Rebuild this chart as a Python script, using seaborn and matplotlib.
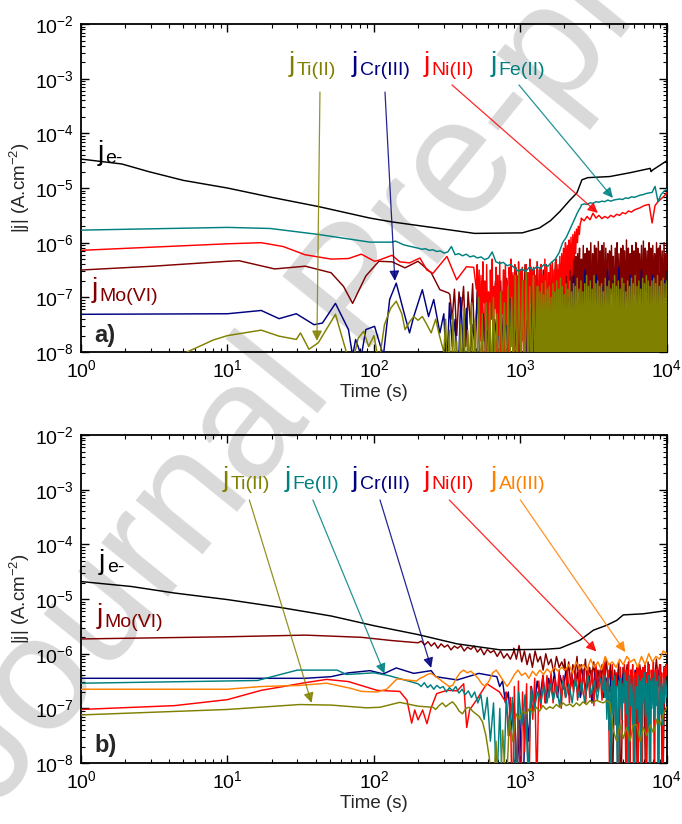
import numpy as np
import matplotlib
matplotlib.use("Agg")
import matplotlib.pyplot as plt
from matplotlib.ticker import LogLocator, NullFormatter
import seaborn as sns

# ================= DATA  (time in s, values = log10 |j| in A.cm-2) =================
# ---------------- panel a) ----------------
A_E_T = [1, 1.9, 2.9, 5, 10, 20, 42, 94, 133, 264, 487, 1030, 1350, 1600, 1860, 2180, 2430, 2630,
         2880, 4070, 5600, 7700, 7800, 8000, 10000]
A_E_LOG = [-4.47, -4.56, -4.70, -4.86, -5.0, -5.17, -5.34, -5.55, -5.62, -5.73, -5.83, -5.82, -5.73,
           -5.60, -5.43, -5.22, -5.09, -4.85, -4.81, -4.79, -4.72, -4.64, -4.70, -4.67, -4.50]

A_FE_T = [1, 10, 19.6, 42, 94, 133, 140, 160]
A_FE_LOG = [-5.77, -5.72, -5.74, -5.85, -5.99, -5.99, -5.97, -6.04]
A_FE_REC1 = [-6.10, -6.12, -6.11, -6.14, -6.13, -6.16, -6.15, -6.19, -6.17, -6.07, -6.22, -6.20,
             -6.24, -6.21, -6.26, -6.24, -6.28, -6.26, -6.31, -6.28, -6.17, -6.35, -6.38, -6.36,
             -6.42, -6.40, -6.46, -6.52, -6.48, -6.53, -6.45, -6.50, -6.44, -6.47, -6.40, -6.43,
             -6.36, -6.30, -6.19, -6.00, -5.90, -5.75, -5.60, -5.45, -5.33]
A_FE_REC2 = [-5.31, -5.29, -5.30, -5.27, -5.28, -5.25, -5.26, -5.24, -5.25, -5.22, -5.24, -5.22,
             -5.21, -5.20, -5.21, -5.18, -5.19, -5.16, -5.17, -5.15, -5.13, -5.12, -5.10, -5.09,
             -5.08, -4.97, -5.25, -5.12, -5.06, -5.02]
A_FE_SPANS = [(200, 2600), (2600, 10000)]

A_NI_T = [1, 10, 17, 24, 33.8, 51, 67, 82, 101, 108, 133, 150, 175, 206, 230, 253, 315, 367, 428, 480]
A_NI_LOG = [-6.14, -6.02, -6.0, -6.07, -6.22, -6.30, -6.29, -6.21, -6.34, -6.32, -6.23, -6.35, -6.37,
            -6.28, -6.50, -6.56, -6.25, -6.68, -6.44, -6.45]
A_NI_REC1 = [-6.85, -6.4, -7.3, -6.5, -7.8, -6.6, -8.3, -6.35, -7.1, -6.7, -8.5, -6.4, -7.6, -6.9,
             -8.2, -6.5, -7.4, -6.3, -8.6, -6.8,
             -7.2, -6.45, -8.1, -6.6, -7.7, -6.35, -8.4, -6.9, -7.3, -6.5, -8.0, -6.4, -7.5, -6.7,
             -8.3, -6.45, -7.0, -6.3, -7.9, -6.55,
             -8.7, -6.4, -7.6, -6.6, -8.9, -6.35, -7.2, -6.5, -8.4, -6.45, -7.8, -6.7, -9.0, -6.4,
             -7.4, -6.55, -8.6, -6.3, -7.1, -6.5,
             -8.8, -6.45, -7.5, -6.6, -8.2, -6.35, -7.9, -6.5, -8.9, -6.4, -7.3, -6.6, -8.5, -6.3,
             -7.7, -6.45, -8.1, -6.55, -7.2, -6.4,
             -8.3, -6.35, -7.6, -6.5, -7.9, -6.3, -7.1, -6.4, -7.5, -6.3]
A_NI_REC2 = [-6.25, -7.2, -6.2, -6.8, -6.1, -7.5, -6.0, -6.6, -6.05, -7.0, -5.95, -6.5, -5.9, -6.6,
             -5.85, -6.3, -5.8, -6.2, -5.75, -6.0, -5.7, -5.85, -5.65, -5.6]
A_NI_REC3 = [-5.55, -5.6, -5.52, -5.58, -5.46, -5.55, -5.5, -5.56, -5.52, -5.55, -5.5, -5.53, -5.48,
             -5.5, -5.45, -5.47, -5.42, -5.44, -5.4, -5.38, -5.36, -5.33, -5.31, -5.3, -5.64, -5.32,
             -5.25, -5.2, -5.15, -5.09]
A_NI_SPANS = [(500, 1860), (1860, 2600), (2600, 10000)]

A_MO_T = [1, 3.1, 10, 12, 21, 34, 51, 62, 71.5, 88, 108, 133, 163, 200, 246, 282, 323]
A_MO_LOG = [-6.50, -6.43, -6.34, -6.33, -6.48, -6.43, -6.55, -6.80, -7.11, -6.61, -6.34, -6.35,
            -6.46, -6.34, -6.55, -6.86, -6.92]
A_MO_REC1 = [-6.95, -7.4, -6.85, -7.7, -6.9, -7.3, -6.8, -7.9, -6.9, -7.5, -6.75, -8.2, -6.85, -7.2,
             -6.7, -7.8, -6.8, -8.4, -6.9, -7.3, -6.7, -8.0]
A_MO_REC2 = [-6.6, -7.6, -6.7, -8.5, -6.5, -7.2, -6.65, -8.8, -6.55, -7.4, -6.6, -8.3, -6.45, -7.0,
             -6.6, -8.6, -6.5, -7.3, -6.4, -8.1,
             -6.55, -6.9, -6.45, -8.7, -6.5, -7.5, -6.35, -8.2, -6.45, -7.1, -6.5, -8.4, -6.4, -7.2,
             -6.55, -8.9, -6.45, -7.0, -6.35, -8.3,
             -6.5, -7.4, -6.4, -8.0, -6.45]
A_MO_REC3 = [-6.35, -7.3, -6.25, -8.4, -6.3, -6.9, -6.2, -7.8, -6.35, -7.0, -6.15, -8.6, -6.25, -7.2,
             -6.2, -6.9, -6.1, -8.0, -6.3, -7.1,
             -6.05, -7.6, -6.2, -6.95, -6.1, -8.3, -6.15, -7.0, -6.0, -7.4, -6.2, -8.8, -6.05, -6.9,
             -6.1, -7.7, -5.98, -7.2, -6.15, -8.1,
             -6.05, -6.9, -6.0, -7.5, -6.1, -7.0, -6.2, -8.5, -6.15, -7.1, -6.05, -6.95, -6.25, -7.6,
             -6.1, -8.2, -6.0, -7.0, -6.2, -7.3,
             -6.1, -8.7, -6.05, -6.9, -6.15, -7.4, -5.95, -7.1, -6.1, -8.4, -6.2, -7.0, -6.05, -7.8,
             -6.15, -6.95, -6.0, -8.9, -6.1, -7.2,
             -6.2, -7.0, -6.05, -7.5, -5.97, -8.1, -6.1, -6.9, -6.15, -7.3, -6.0, -8.6, -6.1, -7.1,
             -6.05, -7.0, -6.2, -7.9, -6.0, -7.2,
             -6.1, -8.3, -6.05, -6.95, -6.15, -7.4, -6.0, -7.0, -6.2, -6.5]
A_MO_SPANS = [(330, 700), (700, 2000), (2000, 10000)]

A_CR_T = [1, 10, 17, 22.5, 29.5, 39, 44.5, 54.6, 67, 71.5, 75, 82, 88, 101, 116, 128, 142, 163, 175,
          187, 214, 236, 256, 282]
A_CR_LOG = [-7.31, -7.30, -7.24, -7.39, -7.30, -7.50, -7.47, -7.11, -7.59, -8.07, -7.77, -8.07, -7.59,
            -7.53, -8.07, -7.04, -6.74, -7.35, -7.65, -7.35, -6.86, -7.35, -7.04, -7.65]
A_CR_REC = [-7.3, -8.4, -7.1, -7.9, -7.4, -8.6, -7.0, -8.1, -7.2, -8.5, -7.5, -7.8, -6.9, -8.7, -7.3,
            -8.2, -7.0, -8.6, -7.4, -7.9, -6.8, -8.4, -7.1, -8.8, -6.9, -8.0, -7.2, -8.5, -6.7, -8.3,
            -7.0, -8.9, -6.8, -7.9, -6.6, -8.6, -7.0, -8.2, -6.7, -8.8, -6.9, -8.0, -6.5, -8.5, -6.8,
            -8.1, -6.6, -8.7, -6.9, -7.9, -6.5, -8.4, -6.7, -8.9, -6.6, -8.0, -6.8, -8.6, -6.5, -8.2,
            -6.7, -8.8, -6.45, -8.1, -6.8, -8.5, -6.6, -8.0, -6.9, -8.7, -6.5, -8.3, -6.7, -8.9, -6.6,
            -8.2, -6.8, -8.6, -6.7, -7.0]
A_CR_SPANS = [(300, 10000)]

A_TI_T = [4, 5.3, 8, 10, 17, 22.5, 29.5, 31.5, 36, 41.7, 47, 54.6, 64, 70, 78, 85, 92, 100, 108, 118,
          130, 142, 155, 163, 175, 187, 200, 214, 230, 246, 264, 280]
A_TI_LOG = [-8.15, -8.0, -7.78, -7.70, -7.60, -7.71, -7.77, -7.65, -7.95, -7.83, -7.6, -7.31, -7.95,
            -8.3, -7.75, -7.62, -7.9, -7.7, -8.2, -7.5, -7.2, -7.07, -7.3, -7.59, -7.45, -7.35, -7.42,
            -7.35, -7.5, -7.65, -7.40, -7.7]
A_TI_REC1 = [-8.0, -7.4, -8.6, -7.6, -8.9, -7.3, -8.4, -7.8, -8.8, -7.5, -8.5, -7.2, -8.9, -7.6, -8.3,
             -7.1, -8.7, -7.4, -8.8, -7.0, -8.5, -7.3, -8.9, -7.1, -8.6]
A_TI_REC2 = [-8.3, -7.1, -8.6, -7.0, -8.2, -7.3, -8.7, -6.9, -8.4, -7.1, -8.8, -6.8, -8.3, -7.0,
             -8.6, -6.6, -8.7, -6.5, -8.4, -6.7, -8.8, -6.5, -8.5, -6.8, -8.7, -6.6, -8.5, -6.8]
A_TI_REC3 = [-8.7, -6.8, -8.9, -6.9, -8.5, -6.75, -8.8, -6.95, -8.6, -6.7, -8.9, -6.85, -8.4, -6.8,
             -8.8, -7.0, -8.6, -6.75, -8.9, -6.9,
             -8.5, -6.7, -8.8, -6.85, -8.6, -6.65, -8.9, -6.8, -8.4, -6.95, -8.7, -6.75, -8.9, -6.85,
             -8.5, -6.7, -8.8, -6.9, -8.6, -6.75,
             -8.9, -6.8, -8.5, -6.65, -8.8, -6.85, -8.6, -6.7, -8.9, -6.9, -8.4, -6.75, -8.8, -6.6,
             -8.6, -6.8, -8.9, -6.7, -8.5, -6.85,
             -8.8, -6.6, -8.7, -6.75, -8.9, -6.7, -8.6, -6.8, -8.8, -6.75, -8.5, -6.9, -8.9, -6.65,
             -8.6, -6.8, -8.8, -6.7, -8.4, -6.85,
             -8.9, -6.75, -8.6, -6.6, -8.8, -6.8, -8.5, -6.7, -8.9, -6.85, -8.7, -6.65, -8.8, -6.75,
             -8.6, -6.9, -8.9, -6.7, -8.5, -6.8,
             -8.8, -6.65, -8.6, -6.75, -8.9, -6.6, -8.5, -6.8, -8.8, -6.7, -8.6, -6.85, -8.9, -6.65,
             -8.7, -6.75, -8.5, -6.6, -8.8, -6.7,
             -8.9, -6.8, -8.6, -6.7, -8.8, -6.65, -8.5, -6.75, -8.9, -6.6, -8.7, -6.8, -8.6, -6.7,
             -8.8, -6.65, -8.9, -6.75, -8.6, -6.7]
A_TI_SPANS = [(300, 600), (600, 1300), (1300, 10000)]

# ---------------- panel b) ----------------
B_E_T = [1, 2.2, 4.35, 10, 22.5, 51, 101, 200, 370, 730, 1450, 1860, 2560, 3150, 3880, 4550, 5040,
         6900, 10000]
B_E_LOG = [-4.68, -4.77, -4.89, -5.01, -5.15, -5.31, -5.49, -5.65, -5.82, -5.93, -5.92, -5.90, -5.75,
           -5.57, -5.48, -5.39, -5.29, -5.27, -5.21]

B_MO_T = [1, 10, 34, 82, 133, 200]
B_MO_LOG = [-5.73, -5.69, -5.66, -5.70, -5.76, -5.80]
B_MO_REC1 = [-5.80, -5.77, -5.84, -5.78, -5.86, -5.80, -5.90, -5.82, -5.88, -5.84, -5.93, -5.86,
             -5.90, -5.85, -5.95, -5.88, -5.92, -5.86, -5.97, -5.90, -6.02, -5.92, -5.98, -5.94,
             -6.05, -5.95, -6.08, -6.0, -6.1, -5.96]
B_MO_REC2 = [-5.9, -6.1, -5.85, -6.15, -5.95, -6.2, -6.0, -6.25, -5.95, -6.15, -6.05, -6.3, -6.0,
             -6.2, -6.1, -6.35, -6.05, -6.25, -6.15, -6.3]
B_MO_REC3 = [-6.1, -6.5, -6.15, -6.6, -6.2, -6.4, -6.05, -6.7, -6.2, -6.5, -6.1, -6.6, -6.25, -6.45,
             -6.15, -6.7, -6.3, -6.5, -6.2, -6.6, -6.1, -6.55, -6.2, -8.5, -6.3, -6.6, -6.15, -8.8,
             -6.25, -6.5, -6.2, -9.0, -6.3, -6.6, -6.4, -8.6, -6.2, -6.5, -6.3, -8.9, -6.15, -6.6,
             -6.35, -6.5, -6.1, -6.6, -6.2, -8.7, -6.3, -6.2]
B_MO_SPANS = [(200, 900), (900, 2000), (2000, 10000)]

B_CR_T = [1, 10, 34, 51, 67, 94, 116, 142, 187, 246, 264, 370, 520, 690]
B_CR_LOG = [-6.45, -6.45, -6.45, -6.42, -6.35, -6.31, -6.37, -6.26, -6.36, -6.31, -6.42, -6.48, -6.36,
            -6.42]
B_CR_REC = [-6.42, -6.6, -6.5, -6.9, -6.7, -7.4, -6.9, -8.2, -7.2, -8.8, -6.8, -7.6, -6.6, -7.0,
            -6.5, -6.8, -6.4, -6.9, -6.45, -6.7, -6.35, -6.8, -6.4, -6.65, -6.3, -6.75, -6.4, -6.6,
            -6.35, -6.8, -6.3, -6.7, -6.4, -6.9, -6.35, -6.6, -6.3, -6.8, -6.45, -6.7, -6.3, -6.9,
            -6.4, -6.6, -6.35, -7.0, -6.4, -6.7, -6.3, -6.8, -6.45, -6.6, -6.35, -6.9, -6.4, -6.7,
            -6.3, -6.8, -6.5, -6.6]
B_CR_SPANS = [(690, 10000)]

B_FE_T = [1, 10, 16, 30, 56, 65, 100, 126, 200]
B_FE_LOG = [-6.54, -6.50, -6.49, -6.30, -6.30, -6.38, -6.35, -6.40, -6.55]
B_FE_REC1 = [-6.55, -6.6, -6.53, -6.62, -6.57, -6.65, -6.58, -6.63, -6.6, -6.7, -6.62, -6.68, -6.6,
             -6.72, -6.65, -6.75, -6.68, -6.8, -6.7, -6.9,
             -6.75, -7.2, -6.8, -7.6, -6.9, -8.5, -7.0, -8.9, -6.85, -7.5, -6.8, -9.0, -6.7, -7.3,
             -6.75, -8.2, -6.65, -7.0, -6.7, -6.9,
             -6.6, -6.9, -6.55, -6.85, -6.6, -6.95, -6.5, -6.8, -6.55, -6.9, -6.45, -6.8, -6.5, -6.9,
             -6.4, -6.75, -6.5, -6.85, -6.45, -6.7]
B_FE_REC2 = [-6.4, -6.8, -6.5, -7.2, -6.45, -7.4, -6.6, -8.6, -6.5, -7.1, -6.4, -7.3, -6.6, -8.8,
             -6.5, -7.0, -6.45, -7.2, -6.55, -6.9,
             -6.35, -7.1, -6.5, -8.9, -6.4, -6.95, -6.55, -7.3, -6.45, -8.4, -6.6, -7.0, -6.4, -7.25,
             -6.5, -9.0, -6.45, -6.9, -6.35, -7.15,
             -6.55, -7.4, -6.4, -8.7, -6.5, -7.0, -6.45, -7.2, -6.35, -6.95, -6.5, -8.5, -6.4, -7.1,
             -6.55, -7.3, -6.45, -6.9, -6.5, -6.8]
B_FE_SPANS = [(200, 3700), (3700, 10000)]

B_AL_T = [1, 10, 17, 31, 47.5, 68.6, 82, 105, 122, 144, 195]
B_AL_LOG = [-6.65, -6.65, -6.60, -6.58, -6.54, -6.63, -6.69, -6.70, -6.65, -6.46, -6.50]
B_AL_REC = [-6.5, -6.45, -6.42, -6.38, -6.36, -6.4, -6.45, -6.5, -6.55, -6.6, -6.58, -6.45, -6.35,
            -6.3, -6.35, -6.32, -6.38, -6.45, -6.55, -6.6,
            -6.5, -6.35, -6.3, -6.4, -6.5, -6.6, -6.5, -6.38, -6.3, -6.4, -6.35, -6.45, -6.32, -6.4,
            -6.3, -6.38, -6.28, -6.35, -6.25, -6.32,
            -6.25, -6.3, -6.2, -6.35, -6.15, -6.28, -6.2, -6.3, -6.1, -6.25, -6.15, -6.3, -6.05, -6.2,
            -6.15, -6.25, -6.1, -6.2, -6.05, -6.15,
            -6.1, -6.25, -6.05, -6.2, -6.0, -6.15, -6.05, -6.1, -5.95, -6.0]
B_AL_SPANS = [(195, 10000)]

B_NI_T = [1, 4.35, 10, 17, 34, 47.5, 67, 105, 150, 168, 181, 190, 200, 215, 230, 245, 268, 316, 370,
          410, 430, 450, 500, 590, 720, 800]
B_NI_LOG = [-7.02, -6.95, -6.84, -6.67, -6.53, -6.47, -6.51, -6.67, -6.69, -6.85, -7.27, -7.03, -7.21,
            -7.03, -7.28, -7.0, -6.73, -6.67, -6.68, -6.55, -7.35, -7.03, -6.85, -6.55, -6.7, -6.9]
B_NI_REC1 = [-6.7, -7.5, -6.8, -9.0, -6.6, -8.8, -6.5, -9.0, -6.7, -7.8, -6.55, -9.0, -6.6, -7.2,
             -6.45, -8.5, -6.5, -7.0, -6.4, -6.9,
             -6.4, -6.8, -6.35, -6.9, -6.45, -6.75, -6.3, -7.0, -6.4, -6.8, -6.25, -6.9, -6.35, -6.7,
             -6.3, -6.85, -6.2, -6.75, -6.3, -6.9,
             -6.25, -6.8, -6.3, -6.95, -6.2, -6.7, -6.3, -6.85, -6.15, -6.75, -6.3, -9.0, -6.2, -6.8,
             -6.35, -9.0, -6.25, -6.9, -6.2, -9.0]
B_NI_REC2 = [-6.3, -6.8, -6.15, -9.0, -6.3, -6.7, -6.2, -9.0, -6.35, -6.8, -6.25, -9.0, -6.2, -7.0,
             -6.3, -9.0, -6.25, -6.75, -6.2, -8.8,
             -6.35, -6.9, -6.2, -9.0, -6.3, -6.7, -6.15, -8.6, -6.3, -6.85, -6.25, -9.0, -6.2, -6.9,
             -6.35, -9.0, -6.25, -6.7, -6.2, -6.4]
B_NI_SPANS = [(800, 5300), (5300, 10000)]

B_TI_T = [1, 10, 31, 51, 89, 110, 150, 200, 253]
B_TI_LOG = [-7.12, -7.02, -6.93, -6.94, -6.99, -6.98, -6.89, -6.96, -6.98]
B_TI_REC = [-7.02, -6.95, -6.9, -6.97, -6.92, -6.88, -6.95, -7.05, -7.1, -7.0, -6.98, -7.05, -7.1,
            -7.15, -7.25, -7.5, -7.9, -8.8, -7.6, -9.0,
            -7.4, -8.6, -7.2, -7.6, -7.1, -7.2, -7.05, -7.1, -7.0, -7.08, -6.98, -7.05, -6.95, -7.02,
            -6.97, -7.0, -6.93, -6.98, -6.9, -6.95,
            -6.92, -6.97, -6.9, -6.95, -6.88, -6.93, -6.86, -6.9, -6.85, -6.88, -6.9, -6.86, -6.9,
            -7.4, -7.6, -7.3, -7.55, -7.35, -7.6, -7.3,
            -7.3, -7.6, -7.35, -7.5, -7.3, -7.45, -7.2, -7.3, -7.1, -6.98]
B_TI_SPANS = [(264, 10000)]

# label / arrow data: (subscript, label-left time, arrow start (t, j), arrow tip (t, j))
A_LABELS = [("Ti(II)", 26.3, (42.8, 5.7e-4), (40.8, 1.6e-8)),
            ("Cr(III)", 70.8, (119, 5.7e-4), (139, 2.0e-7)),
            ("Ni(II)", 219, (341, 7.7e-4), (3380, 3.5e-6)),
            ("Fe(II)", 630, (977, 7.7e-4), (4280, 6.6e-6))]
B_LABELS = [("Ti(II)", 9.26, (14.1, 6.5e-4), (37.5, 1.26e-7)),
            ("Fe(II)", 24.6, (38.3, 6.5e-4), (118, 4.3e-7)),
            ("Cr(III)", 70.8, (110, 6.5e-4), (246, 5.5e-7)),
            ("Ni(II)", 219, (327, 6.5e-4), (3300, 1.1e-6)),
            ("Al(III)", 630, (1000, 6.5e-4), (5200, 1.07e-6))]

C = {"e": "black", "Fe": "#008080", "Ni": "#ff0000", "Mo": "#800000", "Cr": "#000080",
     "Ti": "#808000", "Al": "#ff8000"}
LABEL_COL = {"Ti(II)": C["Ti"], "Cr(III)": C["Cr"], "Ni(II)": C["Ni"], "Fe(II)": C["Fe"],
             "Al(III)": C["Al"]}


def build(t, lg, spans=(), recs=()):
    tt = list(t)
    ll = list(lg)
    for (t0, t1), vals in zip(spans, recs):
        tt += list(np.geomspace(t0, t1, len(vals)))
        ll += list(vals)
    return np.array(tt, float), 10.0 ** np.array(ll, float)


# ================= STYLE =================
sns.set_style("ticks")
plt.rcParams["font.family"] = ["Liberation Sans", "DejaVu Sans"]
plt.rcParams["mathtext.fontset"] = "custom"
plt.rcParams["mathtext.rm"] = "Liberation Sans"
plt.rcParams["mathtext.it"] = "Liberation Sans"
plt.rcParams["mathtext.default"] = "regular"

fig = plt.figure(figsize=(6.82, 8.24), dpi=100)
fig.patch.set_facecolor("white")

# watermark (behind everything)
fig.text(0.53, 0.645, "Journal Pre-proof", fontsize=118, rotation=51, color="#d9d9d9",
         ha="center", va="center", zorder=-5, rotation_mode="anchor")

ax_a = fig.add_axes([0.1188, 0.5728, 0.859, 0.398])
ax_b = fig.add_axes([0.1188, 0.074, 0.859, 0.398])

panel_a = [
    build(A_E_T, A_E_LOG) + (C["e"],),
    build(A_MO_T, A_MO_LOG, A_MO_SPANS, [A_MO_REC1, A_MO_REC2, A_MO_REC3]) + (C["Mo"],),
    build(A_CR_T, A_CR_LOG, A_CR_SPANS, [A_CR_REC]) + (C["Cr"],),
    build(A_NI_T, A_NI_LOG, A_NI_SPANS, [A_NI_REC1, A_NI_REC2, A_NI_REC3]) + (C["Ni"],),
    build(A_TI_T, A_TI_LOG, A_TI_SPANS, [A_TI_REC1, A_TI_REC2, A_TI_REC3]) + (C["Ti"],),
    build(A_FE_T, A_FE_LOG, A_FE_SPANS, [A_FE_REC1, A_FE_REC2]) + (C["Fe"],),
]
panel_b = [
    build(B_MO_T, B_MO_LOG, B_MO_SPANS, [B_MO_REC1, B_MO_REC2, B_MO_REC3]) + (C["Mo"],),
    build(B_CR_T, B_CR_LOG, B_CR_SPANS, [B_CR_REC]) + (C["Cr"],),
    build(B_NI_T, B_NI_LOG, B_NI_SPANS, [B_NI_REC1, B_NI_REC2]) + (C["Ni"],),
    build(B_FE_T, B_FE_LOG, B_FE_SPANS, [B_FE_REC1, B_FE_REC2]) + (C["Fe"],),
    build(B_AL_T, B_AL_LOG, B_AL_SPANS, [B_AL_REC]) + (C["Al"],),
    build(B_TI_T, B_TI_LOG, B_TI_SPANS, [B_TI_REC]) + (C["Ti"],),
    build(B_E_T, B_E_LOG) + (C["e"],),
]


def style_axes(ax):
    ax.set_xscale("log")
    ax.set_yscale("log")
    ax.set_xlim(1, 1e4)
    ax.set_ylim(1e-8, 1e-2)
    ax.set_facecolor("none")
    ax.xaxis.set_major_locator(LogLocator(base=10, numticks=10))
    ax.yaxis.set_major_locator(LogLocator(base=10, numticks=10))
    ax.xaxis.set_minor_locator(LogLocator(base=10, subs=np.arange(2, 10), numticks=20))
    ax.yaxis.set_minor_locator(LogLocator(base=10, subs=np.arange(2, 10), numticks=20))
    ax.xaxis.set_minor_formatter(NullFormatter())
    ax.yaxis.set_minor_formatter(NullFormatter())
    ax.tick_params(which="both", direction="in", top=True, right=True, labelsize=14,
                   colors="black")
    ax.tick_params(which="major", length=6, width=1.0, pad=5)
    ax.tick_params(which="minor", length=3, width=0.8)
    for s in ax.spines.values():
        s.set_linewidth(1.3)
        s.set_color("black")
    ax.set_xlabel("Time (s)", fontsize=13.5, labelpad=2)
    ax.set_ylabel("|j| (A.cm$^{-2}$)", fontsize=13.5, labelpad=2)


def sub_label(ax, x, y, sub, color, size_j=20, size_s=14):
    jt = ax.text(x, y, "j", fontsize=size_j, color=color, ha="left", va="baseline", zorder=6)
    ax.annotate(sub, xy=(1.0, 0.0), xycoords=jt, xytext=(1, -1), textcoords="offset points",
                fontsize=size_s, color=color, ha="left", va="bottom", zorder=6)


for ax, series in ((ax_a, panel_a), (ax_b, panel_b)):
    for t, j, col in series:
        sns.lineplot(x=t, y=j, ax=ax, color=col, linewidth=1.05, estimator=None, sort=False,
                     errorbar=None, zorder=3)
    style_axes(ax)

for ax, labels, ylab in ((ax_a, A_LABELS, 1.37e-3), (ax_b, B_LABELS, 1.18e-3)):
    for sub, tx, start, tip in labels:
        col = LABEL_COL[sub]
        sub_label(ax, tx, ylab, sub, col)
        ax.annotate("", xy=tip, xytext=start,
                    arrowprops=dict(arrowstyle="-|>", color=col, lw=0.9, alpha=0.85,
                                    mutation_scale=15, shrinkA=0, shrinkB=0), zorder=5)

sub_label(ax_a, 1.29, 3.3e-5, "e-", "black")
sub_label(ax_a, 1.19, 1.0e-7, "Mo(VI)", C["Mo"])
ax_a.text(1.23, 1.5e-8, "a)", fontsize=17, fontweight="bold", ha="left", va="baseline", zorder=6)

sub_label(ax_b, 1.33, 3.6e-5, "e-", "black")
sub_label(ax_b, 1.28, 3.6e-6, "Mo(VI)", C["Mo"])
ax_b.text(1.23, 1.6e-8, "b)", fontsize=17, fontweight="bold", ha="left", va="baseline", zorder=6)

fig.savefig("out.png", dpi=100, facecolor="white")
